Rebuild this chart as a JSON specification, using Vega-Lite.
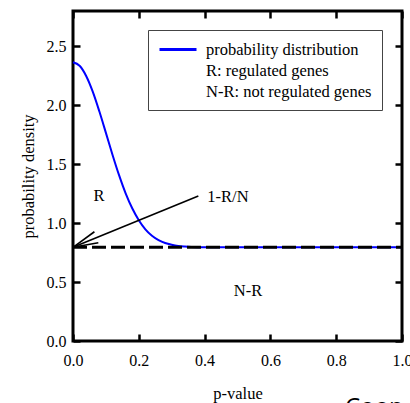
{
  "$schema": "https://vega.github.io/schema/vega-lite/v6.json",
  "width": 329,
  "height": 330,
  "autosize": {"type": "none"},
  "padding": {"left": 73, "top": 11, "right": 8, "bottom": 62},
  "config": {
    "view": {"stroke": "black", "strokeWidth": 3},
    "font": "'Liberation Serif', 'DejaVu Serif', serif",
    "axis": {
      "grid": false,
      "domain": false,
      "tickColor": "black",
      "tickWidth": 2.5,
      "tickSize": -7,
      "labelFont": "'Liberation Serif', 'DejaVu Serif', serif",
      "labelFontSize": 16,
      "labelColor": "black",
      "labelFlush": false,
      "titleFont": "'Liberation Serif', 'DejaVu Serif', serif",
      "titleFontSize": 16.5,
      "titleFontWeight": "normal",
      "titleColor": "black"
    }
  },
  "resolve": {"axis": {"x": "independent", "y": "independent"}},
  "layer": [
    {
      "data": {
        "values": [
          {"p": 0.0, "density": 2.365, "series": "probability distribution"},
          {"p": 0.02, "density": 2.335, "series": "probability distribution"},
          {"p": 0.04, "density": 2.249, "series": "probability distribution"},
          {"p": 0.06, "density": 2.116, "series": "probability distribution"},
          {"p": 0.08, "density": 1.949, "series": "probability distribution"},
          {"p": 0.10, "density": 1.766, "series": "probability distribution"},
          {"p": 0.12, "density": 1.581, "series": "probability distribution"},
          {"p": 0.14, "density": 1.407, "series": "probability distribution"},
          {"p": 0.16, "density": 1.253, "series": "probability distribution"},
          {"p": 0.18, "density": 1.126, "series": "probability distribution"},
          {"p": 0.20, "density": 1.025, "series": "probability distribution"},
          {"p": 0.22, "density": 0.948, "series": "probability distribution"},
          {"p": 0.24, "density": 0.893, "series": "probability distribution"},
          {"p": 0.26, "density": 0.856, "series": "probability distribution"},
          {"p": 0.28, "density": 0.831, "series": "probability distribution"},
          {"p": 0.30, "density": 0.816, "series": "probability distribution"},
          {"p": 0.32, "density": 0.806, "series": "probability distribution"},
          {"p": 0.34, "density": 0.801, "series": "probability distribution"},
          {"p": 0.36, "density": 0.798, "series": "probability distribution"},
          {"p": 0.40, "density": 0.796, "series": "probability distribution"},
          {"p": 0.50, "density": 0.795, "series": "probability distribution"},
          {"p": 1.0, "density": 0.795, "series": "probability distribution"}
        ]
      },
      "mark": {"type": "line", "strokeWidth": 2, "interpolate": "monotone"},
      "encoding": {
        "x": {
          "field": "p", "type": "quantitative",
          "scale": {"domain": [0, 1], "nice": false},
          "axis": {"orient": "bottom", "values": [0, 0.2, 0.4, 0.6, 0.8, 1], "format": ".1f", "title": "p-value", "labelPadding": 18, "titlePadding": 17}
        },
        "y": {
          "field": "density", "type": "quantitative",
          "scale": {"domain": [0, 2.8], "nice": false},
          "axis": {"orient": "left", "values": [0, 0.5, 1, 1.5, 2, 2.5], "format": ".1f", "title": "probability density", "labelPadding": 14, "titlePadding": 10}
        },
        "color": {
          "field": "series", "type": "nominal",
          "scale": {
            "domain": ["probability distribution", "R: regulated genes", "N-R: not regulated genes"],
            "range": ["blue", "transparent", "transparent"]
          },
          "legend": {
            "title": null,
            "orient": "none",
            "legendX": 75,
            "legendY": 19,
            "symbolType": "M-1,0H3.625",
            "symbolSize": 256,
            "symbolStrokeWidth": 3,
            "labelFont": "'Liberation Serif', 'DejaVu Serif', serif",
            "labelFontSize": 16.5,
            "labelColor": "black",
            "labelLimit": 400,
            "strokeColor": "#444",
            "fillColor": "white",
            "padding": 10,
            "rowPadding": 3,
            "labelOffset": 29
          }
        }
      }
    },
    {
      "data": {"values": [{"p": 0, "density": 0.795}, {"p": 1, "density": 0.795}]},
      "mark": {"type": "line", "color": "black", "strokeWidth": 3, "strokeDash": [14, 5]},
      "encoding": {
        "x": {"field": "p", "type": "quantitative", "axis": {"orient": "top", "labels": false, "title": null, "values": [0, 0.2, 0.4, 0.6, 0.8, 1]}},
        "y": {"field": "density", "type": "quantitative", "axis": {"orient": "right", "labels": false, "title": null, "values": [0, 0.5, 1, 1.5, 2, 2.5]}}
      }
    },
    {
      "data": {
        "values": [
          {"part": "shaft", "p": 0.381, "density": 1.23},
          {"part": "shaft", "p": 0.0, "density": 0.795},
          {"part": "wing1", "p": 0.0, "density": 0.795},
          {"part": "wing1", "p": 0.065, "density": 0.927},
          {"part": "wing2", "p": 0.0, "density": 0.795},
          {"part": "wing2", "p": 0.077, "density": 0.834}
        ]
      },
      "mark": {"type": "line", "color": "black", "strokeWidth": 1.6},
      "encoding": {
        "x": {"field": "p", "type": "quantitative", "axis": null},
        "y": {"field": "density", "type": "quantitative", "axis": null},
        "detail": {"field": "part"}
      }
    },
    {
      "data": {
        "values": [
          {"label": "R", "p": 0.079, "density": 1.23},
          {"label": "1-R/N", "p": 0.471, "density": 1.22},
          {"label": "N-R", "p": 0.532, "density": 0.424}
        ]
      },
      "mark": {"type": "text", "font": "'Liberation Serif', 'DejaVu Serif', serif", "fontSize": 16.5, "color": "black", "align": "center", "baseline": "middle"},
      "encoding": {
        "x": {"field": "p", "type": "quantitative", "axis": null},
        "y": {"field": "density", "type": "quantitative", "axis": null},
        "text": {"field": "label"}
      }
    },
    {
      "data": {"values": [{"label": "Coop", "p": 0.827, "density": -0.467}]},
      "mark": {"type": "text", "font": "Open Sans", "fontSize": 24, "color": "black", "align": "left", "baseline": "top"},
      "encoding": {
        "x": {"field": "p", "type": "quantitative", "axis": null},
        "y": {"field": "density", "type": "quantitative", "axis": null},
        "text": {"field": "label"}
      }
    }
  ]
}
